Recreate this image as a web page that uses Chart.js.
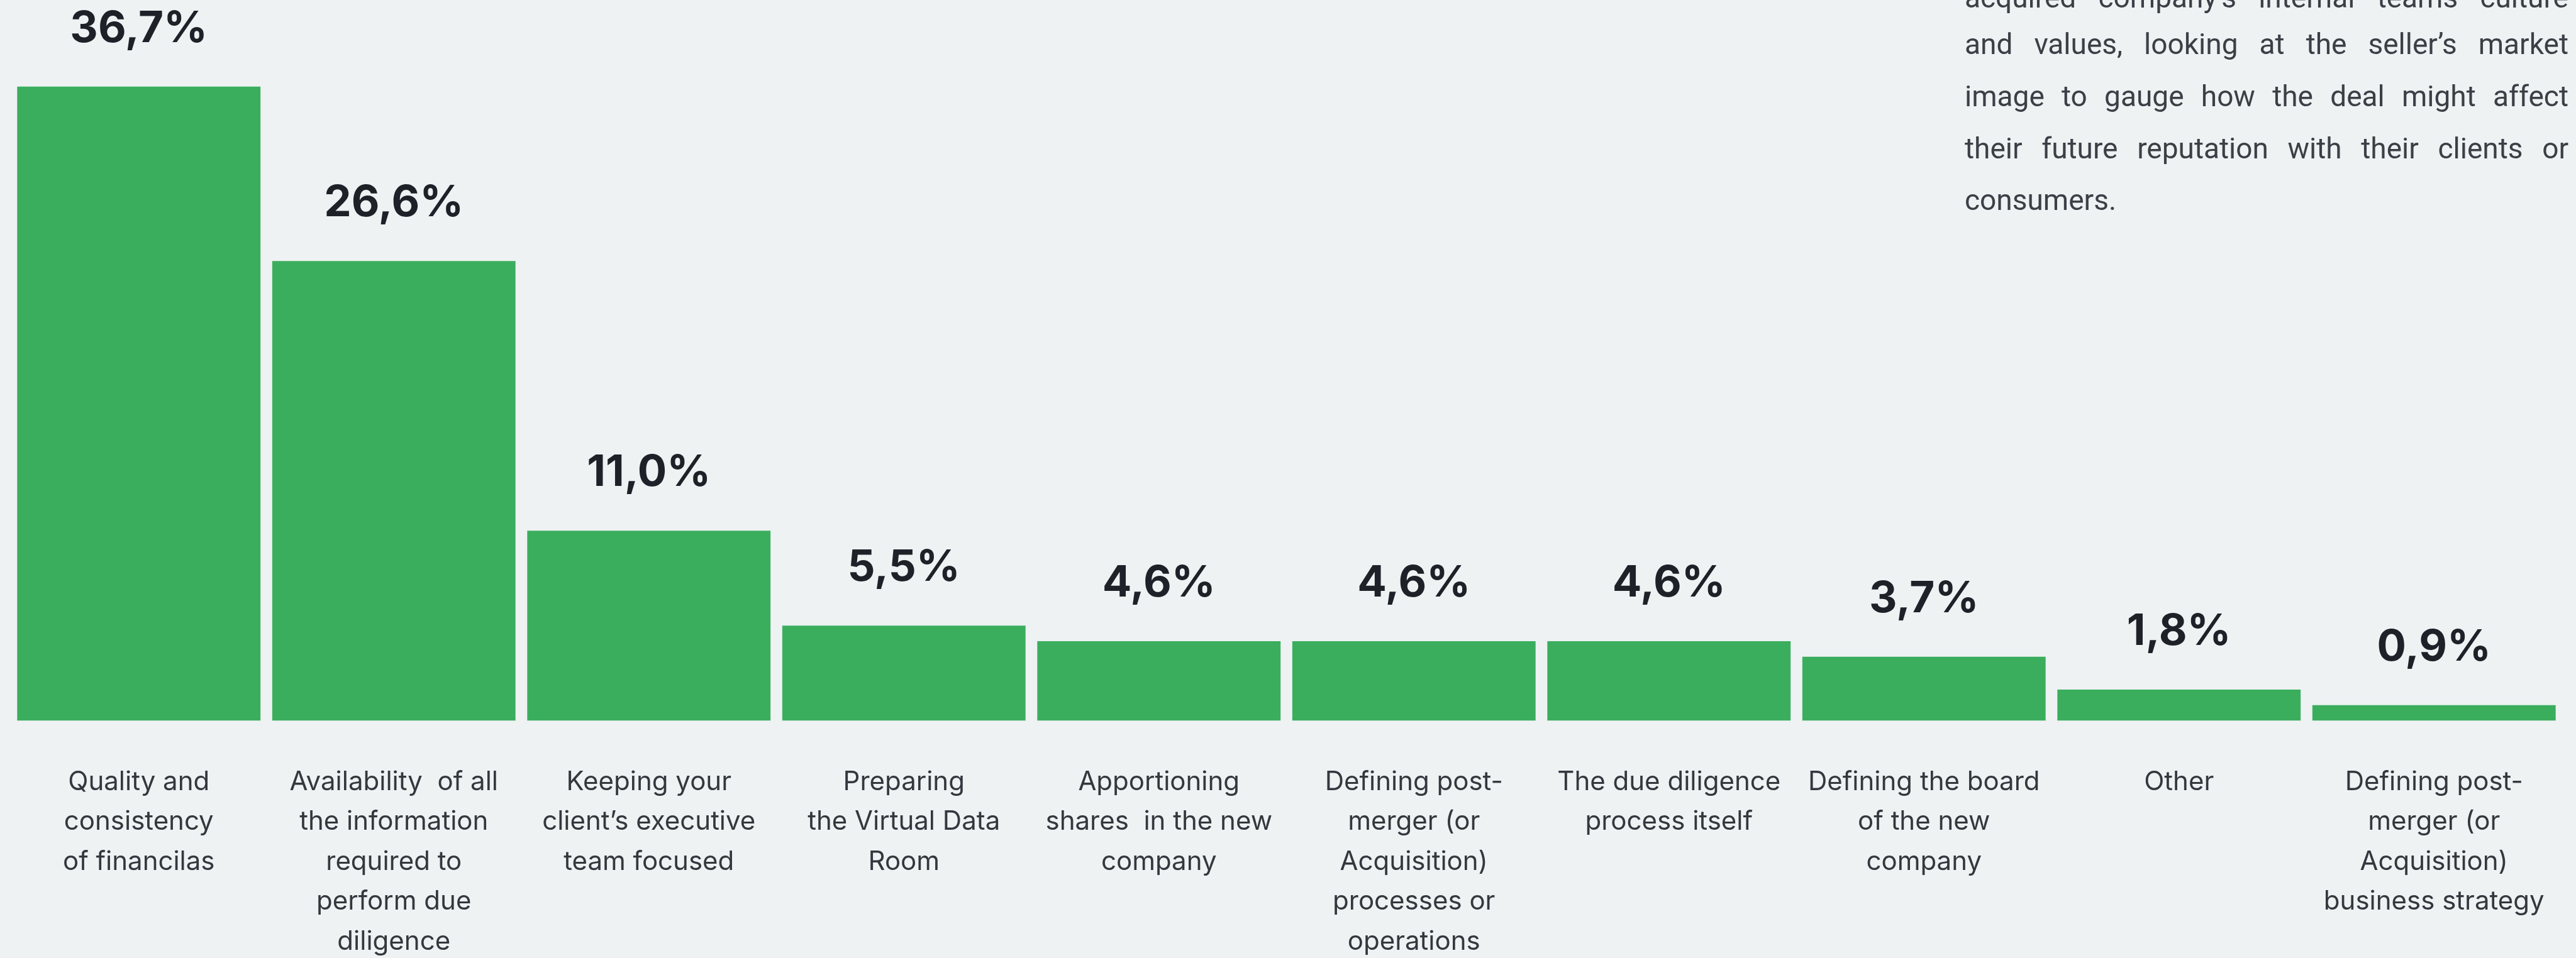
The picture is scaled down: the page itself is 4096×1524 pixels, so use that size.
<!DOCTYPE html>
<html>
<head>
<meta charset="utf-8">
<script src="https://cdn.jsdelivr.net/npm/chart.js@4.4.1/dist/chart.umd.min.js"></script>
<style>
    html, body { margin: 0; padding: 0; background: #eef2f3; }
    #wrap { position: relative; width: 4096px; height: 1524px; }
</style>
</head>
<body>
<div id="wrap"><canvas id="dd-bar-chart"></canvas></div>
<script>
var categories = [
    ['Quality and', 'consistency', 'of financilas'],
    ['Availability  of all', 'the information', 'required to', 'perform due', 'diligence'],
    ['Keeping your', 'client’s executive', 'team focused'],
    ['Preparing', 'the Virtual Data', 'Room'],
    ['Apportioning', 'shares  in the new', 'company'],
    ['Defining post-', 'merger (or', 'Acquisition)', 'processes or', 'operations'],
    ['The due diligence', 'process itself'],
    ['Defining the board', 'of the new', 'company'],
    ['Other'],
    ['Defining post-', 'merger (or', 'Acquisition)', 'business strategy'],
];
var shares = [36.7, 26.6, 11.0, 5.5, 4.6, 4.6, 4.6, 3.7, 1.8, 0.9];

// side note, justified, top lines run off the top edge
var noteLines = [
    'acquired company’s internal teams culture',
    'and values, looking at the seller’s market',
    'image to gauge how the deal might affect',
    'their future reputation with their clients or',
    'consumers.',
];

var data = {
    labels: categories,
    datasets: [{
        label: 'share',
        data: shares,
        backgroundColor: '#3bae5e',
        borderWidth: 0,
        barPercentage: 0.954,
        categoryPercentage: 1,
    }]
};

// percentage above every bar, "36,7%"
var valueLabels = {
    id: 'valueLabels',
    afterDatasetsDraw: function (chart) {
        var ctx = chart.ctx;
        var meta = chart.getDatasetMeta(0);
        ctx.save();
        ctx.font = '700 69px Inter';
        ctx.fillStyle = '#1e2128';
        ctx.textAlign = 'center';
        ctx.textBaseline = 'alphabetic';
        meta.data.forEach(function (bar, i) {
            var txt = shares[i].toFixed(1).replace('.', ',') + '%';
            ctx.fillText(txt, bar.x, bar.y - 71);
        });
        ctx.restore();
    }
};

var sideNote = {
    id: 'sideNote',
    afterDraw: function (chart) {
        var ctx = chart.ctx;
        var left = 3124, width = 960;
        var baselines = [11.5, 85.7, 168.8, 251.5, 333.5];
        ctx.save();
        ctx.font = '400 46px Roboto';
        ctx.fillStyle = '#3c3f46';
        ctx.textBaseline = 'alphabetic';
        ctx.textAlign = 'left';
        noteLines.forEach(function (line, i) {
            var words = line.split(' ');
            var y = baselines[i];
            if (i === noteLines.length - 1 || words.length < 2) {
                ctx.fillText(line, left, y);
                return;
            }
            var sum = 0;
            words.forEach(function (w) { sum += ctx.measureText(w).width; });
            var gap = (width - sum) / (words.length - 1);
            var x = left;
            words.forEach(function (w) {
                ctx.fillText(w, x, y);
                x += ctx.measureText(w).width + gap;
            });
        });
        ctx.restore();
    }
};

var layout = {
    type: 'bar',
    data: data,
    options: {
        responsive: true,
        maintainAspectRatio: false,
        animation: false,
        layout: {
            padding: { top: 47, left: 18, right: 23, bottom: 0 }
        },
        plugins: {
            legend: { display: false },
            tooltip: { enabled: false },
        },
        scales: {
            x: {
                grid: { display: false, drawTicks: false },
                border: { display: false },
                ticks: {
                    padding: 66,
                    color: '#34373d',
                    maxRotation: 0,
                    autoSkip: false,
                    font: { family: 'Inter', size: 42, weight: '400', lineHeight: 1.51 }
                },
                afterFit: function (scale) {
                    // fixed label band; no extra side padding from long labels
                    scale.height = 377.5;
                    scale.paddingLeft = 0;
                    scale.paddingRight = 0;
                }
            },
            y: {
                display: false,
                min: 0,
                max: 40,
            },
        },
    },
    plugins: [valueLabels, sideNote]
};

Promise.all([
    document.fonts.load('700 69px Inter'),
    document.fonts.load('400 42px Inter'),
    document.fonts.load('400 46px Roboto'),
]).catch(function () {}).then(function () {
    const ddBar = document.getElementById('dd-bar-chart');
    new Chart(ddBar, layout);
});
</script>
</body>
</html>
